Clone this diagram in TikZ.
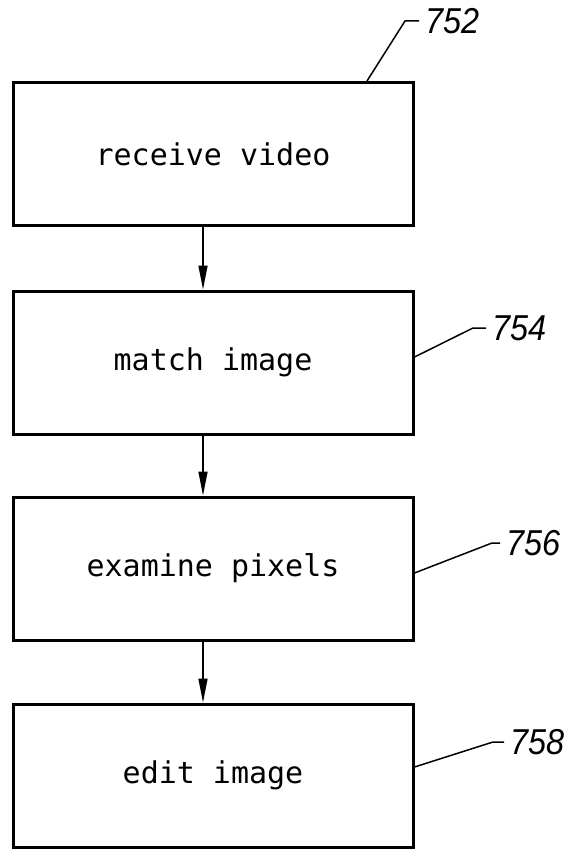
\documentclass[tikz,border=0pt]{standalone}
\usepackage{fontspec}
\newfontfamily\boxfont{DejaVu Sans Mono}
\newfontfamily\numfont[FakeStretch=0.9]{Liberation Sans}
\usetikzlibrary{arrows.meta}
\begin{document}
\begin{tikzpicture}[x=1pt,y=-1pt,
  stepbox/.style={draw,line width=3pt,minimum width=400pt,minimum height=143pt,inner sep=0pt,font=\boxfont\fontsize{30}{36}\selectfont},
  flow/.style={-{Triangle[length=24pt,width=9pt]},line width=1.5pt},
  leader/.style={line width=1.5pt},
  refnum/.style={anchor=west,inner sep=0pt,outer sep=6pt,font=\numfont\itshape\fontsize{36}{40}\selectfont}]
\useasboundingbox (0,0) rectangle (578,851);
\node[stepbox] (b1) at (213,154) {receive video};
\node[stepbox] (b2) at (213,362.5) {match image};
\node[stepbox] (b3) at (213,568.5) {examine pixels};
\node[stepbox] (b4) at (213,775.5) {edit image};
\coordinate (ax) at (203,0);
\draw[flow] (b1.south -| ax) -- (b2.north -| ax);
\draw[flow] (b2.south -| ax) -- (b3.north -| ax);
\draw[flow] (b3.south -| ax) -- (b4.north -| ax);
\node[refnum] (n1) at (419,21) {752};
\node[refnum] (n2) at (486,328) {754};
\node[refnum] (n3) at (500,543) {756};
\node[refnum] (n4) at (504,742) {758};
\draw[leader] ([xshift=154pt]b1.north) -- ([xshift=-14pt]n1.west) -- (n1.west);
\draw[leader] ([yshift=5.5pt]b2.east) -- ([xshift=-13pt]n2.west) -- (n2.west);
\draw[leader] ([yshift=-4.5pt]b3.east) -- ([xshift=-8pt]n3.west) -- (n3.west);
\draw[leader] ([yshift=8.5pt]b4.east) -- ([xshift=-11pt]n4.west) -- (n4.west);
\end{tikzpicture}
\end{document}
